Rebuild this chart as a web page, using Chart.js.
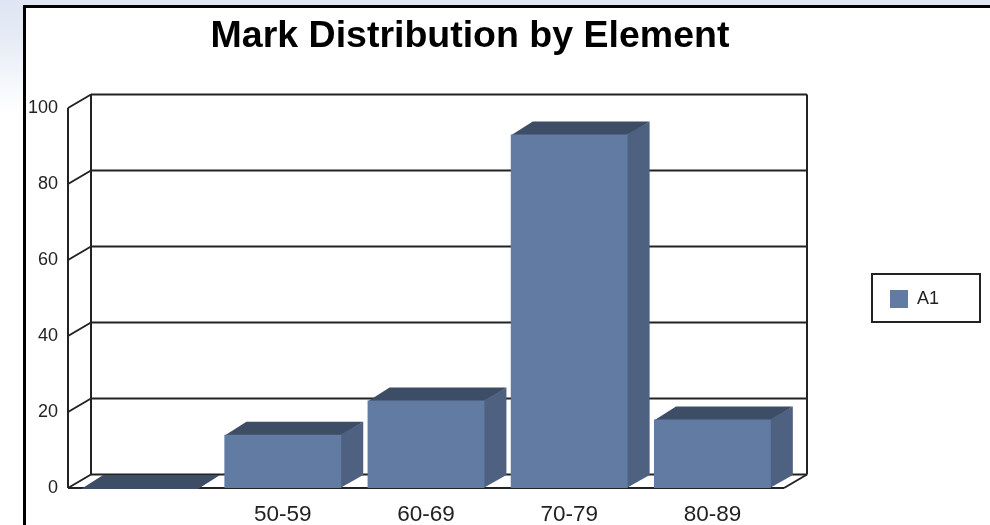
<!DOCTYPE html>
<html>
<head>
<meta charset="utf-8">
<title>Mark Distribution by Element</title>
<script src="https://cdn.jsdelivr.net/npm/chart.js@4"></script>
<style>
    html, body { margin: 0; padding: 0; width: 990px; height: 525px; overflow: hidden; background: #fff; }
    #sfondo { position: absolute; left: 0; top: 0; width: 990px; height: 525px;
              background: linear-gradient(to bottom, #dfe6f3 0px, #e6ecf6 40px, #f6f8fc 85px, #ffffff 115px); }
    #cornice { position: absolute; left: 23px; top: 5px; width: 1000px; height: 600px;
               background: #fff; border: 3px solid #000; box-sizing: border-box; }
    #grafico { position: absolute; left: 0; top: 0; }
</style>
</head>
<body>
<div id="sfondo"></div>
<div id="cornice"></div>
<canvas id="grafico" width="990" height="525"></canvas>
<script>
"use strict";
const categorie = ["", "50-59", "60-69", "70-79", "80-89"];
const valori = [0, 14, 23, 93, 18];
const tickY = [0, 20, 40, 60, 80, 100];
const nomeSerie = "A1";
const titolo = "Mark Distribution by Element";

const COL_FRONTE = "#627ba3";
const COL_SOPRA = "#3d4d66";
const COL_LATO = "#4e6180";
const COL_LINEE = "#222222";

// profondita' della finta prospettiva 3D: pareti e barre
const DX = 23;
const DY = -13.5;
const BAR_DX = 22;
const BAR_DY = -13;

function linea(ctx, x1, y1, x2, y2) {
    ctx.beginPath();
    ctx.moveTo(x1, y1);
    ctx.lineTo(x2, y2);
    ctx.stroke();
}

function poligono(ctx, punti, colore) {
    ctx.fillStyle = colore;
    ctx.beginPath();
    ctx.moveTo(punti[0][0], punti[0][1]);
    for (const p of punti) {
        ctx.lineTo(p[0], p[1]);
    }
    ctx.closePath();
    ctx.fill();
}

const pluginScena = {
    id: "scena3d",
    afterLayout(chart) {
        // titolo e legenda non seguono l'area del grafico
        chart.titleBlock.left = 0;
        chart.titleBlock.right = 940;
        const leg = chart.legend;
        leg.left = 872;
        leg.right = 980;
        leg.top = 274;
        leg.bottom = 324;
    },
    beforeDatasetsDraw(chart) {
        const ctx = chart.ctx;
        const area = chart.chartArea;
        const y = chart.scales.y;
        ctx.save();
        ctx.strokeStyle = COL_LINEE;
        ctx.lineWidth = 2;
        // griglia sul fondo e sulla parete sinistra
        for (const v of tickY) {
            const py = y.getPixelForValue(v);
            linea(ctx, area.left, py, area.left + DX, py + DY);
            linea(ctx, area.left + DX, py + DY, area.right + DX, py + DY);
        }
        linea(ctx, area.left, area.top, area.left, area.bottom);
        linea(ctx, area.left + DX, area.top + DY, area.left + DX, area.bottom + DY);
        linea(ctx, area.right + DX, area.top + DY, area.right + DX, area.bottom + DY);
        // pavimento
        linea(ctx, area.left, area.bottom, area.right, area.bottom);
        linea(ctx, area.right, area.bottom, area.right + DX, area.bottom + DY);
        // facce superiori e laterali delle barre, un po' sotto il fronte per non lasciare fessure
        for (const bar of chart.getDatasetMeta(0).data) {
            const sx = bar.x - bar.width / 2;
            const dx = bar.x + bar.width / 2;
            poligono(ctx, [[sx, bar.y + 1], [sx + BAR_DX, bar.y + BAR_DY], [dx + BAR_DX, bar.y + BAR_DY], [dx, bar.y + 1]], COL_SOPRA);
            poligono(ctx, [[dx - 1, bar.y], [dx + BAR_DX, bar.y + BAR_DY], [dx + BAR_DX, bar.base + BAR_DY], [dx - 1, bar.base]], COL_LATO);
        }
        ctx.restore();
    },
    afterDraw(chart) {
        // cornice della legenda
        const leg = chart.legend;
        const ctx = chart.ctx;
        ctx.save();
        ctx.strokeStyle = COL_LINEE;
        ctx.lineWidth = 2;
        ctx.strokeRect(leg.left, leg.top, leg.right - leg.left, 48);
        ctx.restore();
    }
};

let grafico = new Chart(document.getElementById("grafico"), {
    type: "bar",
    data: {
        labels: categorie,
        datasets: [{
            label: nomeSerie,
            data: valori,
            backgroundColor: COL_FRONTE,
            borderWidth: 0,
            categoryPercentage: 1,
            barPercentage: 0.816
        }]
    },
    options: {
        responsive: false,
        animation: false,
        layout: { padding: { left: 0, top: 0, right: 206, bottom: 0 } },
        scales: {
            x: {
                grid: { display: false },
                border: { display: false },
                ticks: {
                    padding: 5,
                    color: "#222",
                    maxRotation: 0,
                    font: { family: "Liberation Sans", size: 22.5 }
                },
                afterFit(scala) { scala.height = 37; }
            },
            y: {
                min: 0,
                max: 100,
                grid: { display: false, drawTicks: false },
                border: { display: false },
                afterBuildTicks(scala) { scala.ticks = tickY.map(v => ({ value: v })); },
                ticks: {
                    padding: 10,
                    color: "#222",
                    font: { family: "Liberation Sans", size: 18 }
                },
                afterFit(scala) { scala.width = 68; }
            }
        },
        plugins: {
            title: {
                display: true,
                text: titolo,
                color: "#000",
                font: { family: "Liberation Sans", size: 37.5, weight: "bold" },
                padding: { top: 14, bottom: 49 }
            },
            legend: {
                display: true,
                position: "chartArea",
                labels: {
                    boxWidth: 18,
                    boxHeight: 18,
                    padding: 18,
                    color: "#222",
                    font: { family: "Liberation Sans", size: 18 }
                }
            },
            tooltip: { enabled: false }
        }
    },
    plugins: [pluginScena]
});
</script>
</body>
</html>
